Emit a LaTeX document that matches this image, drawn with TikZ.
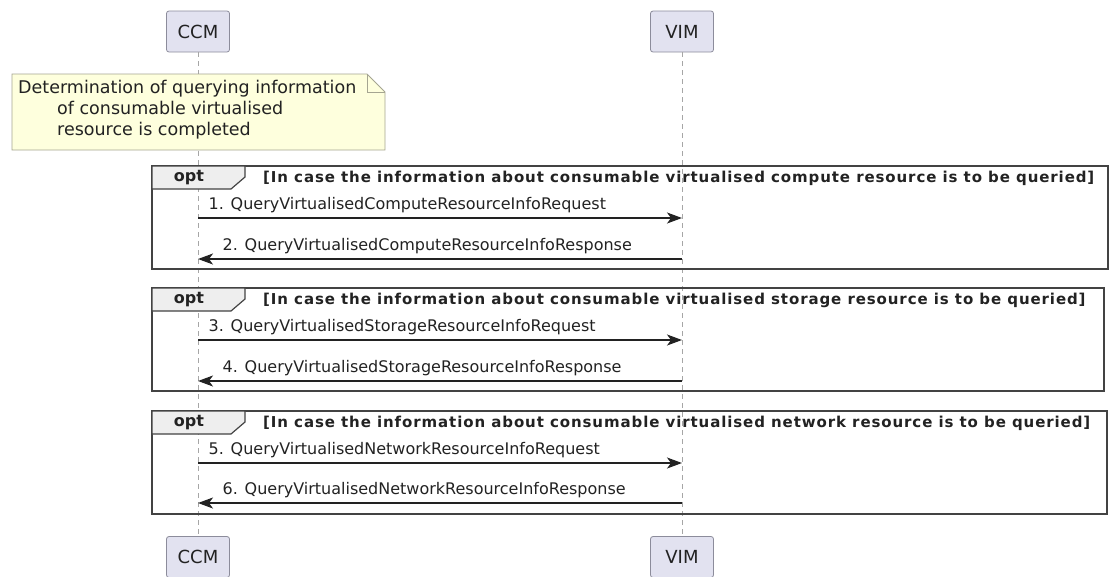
\documentclass[tikz,border=0pt]{standalone}
\usepackage{fontspec}
\setmainfont{DejaVu Sans}
\newfontfamily\condfont{DejaVu Sans}[LetterSpace=6.0]
\usetikzlibrary{arrows.meta}
\definecolor{partfill}{RGB}{226,226,240}
\definecolor{partdraw}{RGB}{140,140,155}
\definecolor{notefill}{RGB}{254,255,221}
\definecolor{notedraw}{RGB}{165,165,145}
\definecolor{tabfill}{RGB}{238,238,238}
\definecolor{txt}{RGB}{34,34,34}
\begin{document}
\begin{tikzpicture}[x=1pt,y=-1pt,
  part/.style={draw=partdraw,fill=partfill,rounded corners=2.5pt,line width=0.8pt,
    minimum width=63pt,minimum height=41pt,inner sep=0pt,text=txt,
    font=\fontsize{18}{21}\selectfont},
  lifeline/.style={draw=gray!70,dash pattern=on 5pt off 4pt,line width=0.8pt},
  msg/.style={draw=txt,line width=1.3pt,-{Stealth[length=15pt,width=11pt,inset=4pt]}},
  mlabel/.style={inner sep=0pt,text=txt,font=\fontsize{16}{19}\selectfont},
  frame/.style={draw=txt!85,line width=1.8pt},
  tab/.style={draw=txt!85,fill=tabfill,line width=1.2pt},
  optlab/.style={inner sep=0pt,text=txt,font=\bfseries\fontsize{16}{19}\selectfont},
  cond/.style={inner sep=0pt,anchor=west,text=txt,font=\condfont\bfseries\fontsize{15}{18}\selectfont},
  notebox/.style={draw=notedraw,fill=notefill,line width=0.8pt},
  notetext/.style={inner sep=0pt,anchor=north west,align=left,text=txt,
    font=\fontsize{17.5}{21}\selectfont}
]
\useasboundingbox (0,0) rectangle (1110,576);
% participants
\node[part] (ccmT) at (198,31.5) {CCM};
\node[part] (vimT) at (682,31.5) {VIM};
\node[part] (ccmB) at (198,557) {CCM};
\node[part] (vimB) at (682,557) {VIM};
% lifelines
\draw[lifeline] (ccmT.south) -- (ccmB.north);
\draw[lifeline] (vimT.south) -- (vimB.north);
% note
\draw[notebox] (12,74) -- (367,74) -- (385,92) -- (385,150) -- (12,150) -- cycle;
\draw[notedraw,line width=0.8pt] (367,74) -- (367,92) -- (385,92);
\node[notetext] (note) at (18,80) {Determination of querying information\\
\hspace*{39pt}of consumable virtualised\\
\hspace*{39pt}resource is completed};
% frames
\foreach \top/\right/\what/\i in {166/1108/compute/1, 288/1104/storage/2, 411/1107/network/3}{
  \draw[frame] (152,\top) rectangle (\right,\top+103);
  \draw[tab] (152,\top) -- (245,\top) -- (245,\top+11) -- (231,\top+23) -- (152,\top+23) -- cycle;
  \node[optlab] (opt\i) at (189,\top+12) {opt};
  \node[cond] (cond\i) at (263,\top+12) {[In case the information about consumable virtualised \what\ resource is to be queried]};
}
% message anchor points
\foreach \n/\y in {1/218,2/259,3/340,4/381,5/463,6/503}{
  \coordinate (c\n) at (198,\y);
  \coordinate (v\n) at (682,\y);
}
\draw[msg] (c1) -- (v1) node[mlabel,pos=0,anchor=south west,xshift=10pt,yshift=5pt] {1. QueryVirtualisedComputeResourceInfoRequest};
\draw[msg] (v2) -- (c2) node[mlabel,pos=1,anchor=south west,xshift=24pt,yshift=5pt] {2. QueryVirtualisedComputeResourceInfoResponse};
\draw[msg] (c3) -- (v3) node[mlabel,pos=0,anchor=south west,xshift=10pt,yshift=5pt] {3. QueryVirtualisedStorageResourceInfoRequest};
\draw[msg] (v4) -- (c4) node[mlabel,pos=1,anchor=south west,xshift=24pt,yshift=5pt] {4. QueryVirtualisedStorageResourceInfoResponse};
\draw[msg] (c5) -- (v5) node[mlabel,pos=0,anchor=south west,xshift=10pt,yshift=5pt] {5. QueryVirtualisedNetworkResourceInfoRequest};
\draw[msg] (v6) -- (c6) node[mlabel,pos=1,anchor=south west,xshift=24pt,yshift=5pt] {6. QueryVirtualisedNetworkResourceInfoResponse};
\end{tikzpicture}
\end{document}
